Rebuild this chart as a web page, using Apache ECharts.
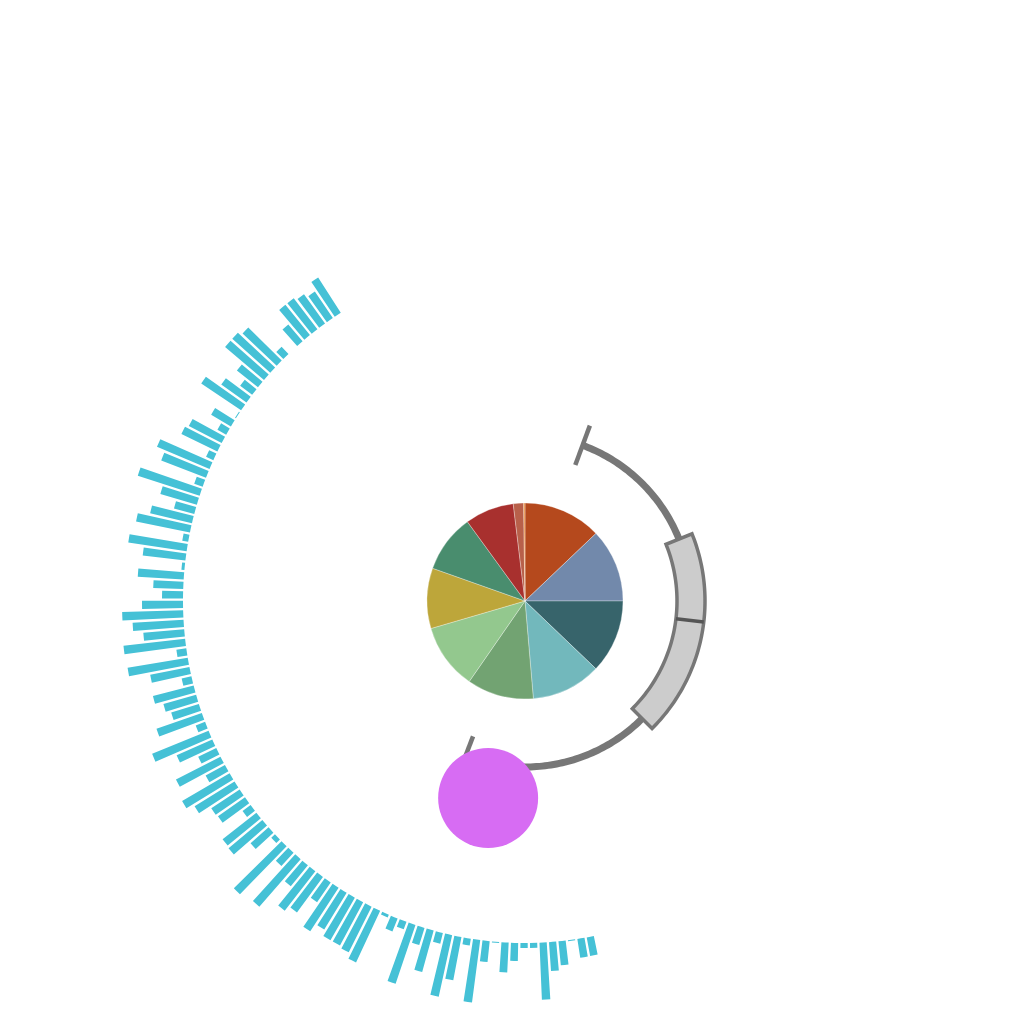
<!DOCTYPE html>
<html>
<head>
<meta charset="utf-8">
<script src="https://cdn.jsdelivr.net/npm/echarts@6/dist/echarts.min.js"></script>
<style>html,body{margin:0;padding:0;background:#fff}#c{width:1024px;height:1024px}</style>
</head>
<body>
<div id="c"></div>
<script>
// ---- data ----
const barValues = [
  42, 32, 36, 39, 39, 22, 0, 10, 47, 51,
  51, 27, 15, 31, 48, 1, 23, 10, 37, 40,
  8, 57, 48, 9, 65, 38, 21, 43, 55, 6,
  59, 43, 3, 46, 30, 21, 41, 61, 51, 41,
  62, 10, 61, 40, 10, 42, 34, 29, 48, 10,
  61, 39, 20, 50, 22, 55, 47, 34, 33, 10,
  43, 44, 24, 5, 67, 18, 63, 27, 50, 44,
  24, 52, 43, 49, 49, 51, 57, 3, 14, 8,
  62, 18, 43, 11, 63, 44, 7, 63, 21, 1,
  30, 18, 5, 5, 57, 29, 24, 1, 19, 19
];
const barCategories = barValues.map((v, i) => 'c' + (i + 1));

const pieNames = ['A', 'B', 'C', 'D', 'E', 'F', 'G', 'H', 'I', 'J', 'K'];
const pieValues = [46.4, 43.6, 43.7, 41.4, 39.6, 39.0, 35.8, 34.5, 29.1, 6.1, 0.8];
const pieColors = ['#b5491d', '#7289ab', '#37646b', '#72b8bc', '#72a372', '#93c88e',
                   '#bda63a', '#498d6e', '#a8302e', '#b8604a', '#e98c3a'];

// boxplot on angle axis: [low, Q1, median, Q3, high]
const boxValues = [20.3, 68.1, 96.7, 135.1, 201.0];
// scatter point: [radius, angle]
const scatterValues = [[200.4, 190.6]];

// ---- layout / style ----
const CENTER = [525, 601];
const BOX_RADIUS = 166;
const BOX_HALF = 14;
const CAP_HALF = 21;

function renderBox(params, api) {
  const low = api.value(0), q1 = api.value(1), med = api.value(2), q3 = api.value(3), high = api.value(4);
  const rIn = BOX_RADIUS - BOX_HALF, rOut = BOX_RADIUS + BOX_HALF;
  const arc = (r, a0, a1) => {
    const n = Math.max(2, Math.ceil(Math.abs(a1 - a0)));
    const pts = [];
    for (let i = 0; i <= n; i++) pts.push(api.coord([r, a0 + (a1 - a0) * i / n]));
    return pts;
  };
  const seg = (a, r0, r1, style) => {
    const p0 = api.coord([r0, a]), p1 = api.coord([r1, a]);
    return { type: 'line', shape: { x1: p0[0], y1: p0[1], x2: p1[0], y2: p1[1] }, style: style };
  };
  const whiskerStyle = { stroke: '#777777', lineWidth: 7, fill: 'none' };
  const capStyle = { stroke: '#777777', lineWidth: 4.5, fill: 'none' };
  return {
    type: 'group',
    children: [
      { type: 'polyline', shape: { points: arc(BOX_RADIUS, low, q1) }, style: whiskerStyle },
      { type: 'polyline', shape: { points: arc(BOX_RADIUS, q3, high) }, style: whiskerStyle },
      seg(low, BOX_RADIUS - CAP_HALF, BOX_RADIUS + CAP_HALF, capStyle),
      seg(high, BOX_RADIUS - CAP_HALF, BOX_RADIUS + CAP_HALF, capStyle),
      { type: 'polygon', shape: { points: arc(rOut, q1, q3).concat(arc(rIn, q3, q1)) },
        style: { fill: '#cccccc', stroke: '#777777', lineWidth: 3.5 } },
      seg(med, rIn, rOut, { stroke: '#555555', lineWidth: 3.5 })
    ]
  };
}

const chart = echarts.init(document.getElementById('c'), null, { renderer: 'canvas' });
chart.setOption({
  animation: false,
  backgroundColor: '#ffffff',
  polar: [
    { center: CENTER, radius: [342, 412] },
    { center: CENTER, radius: [0, 400] }
  ],
  angleAxis: [
    { polarIndex: 0, type: 'category', data: barCategories, boundaryGap: true,
      startAngle: 122.4, endAngle: 281.8, clockwise: false, show: false },
    { polarIndex: 1, type: 'value', min: 0, max: 360, startAngle: 90, clockwise: true, show: false }
  ],
  radiusAxis: [
    { polarIndex: 0, type: 'value', min: 0, max: 70, show: false },
    { polarIndex: 1, type: 'value', min: 0, max: 400, show: false }
  ],
  series: [
    { type: 'bar', coordinateSystem: 'polar', polarIndex: 0, data: barValues,
      barCategoryGap: '24%', itemStyle: { color: '#45c1d6' } },
    { type: 'custom', coordinateSystem: 'polar', polarIndex: 1, data: [boxValues],
      renderItem: renderBox },
    { type: 'scatter', coordinateSystem: 'polar', polarIndex: 1, data: scatterValues,
      symbolSize: 100, itemStyle: { color: '#d76cf3', opacity: 1 } },
    { type: 'pie', center: CENTER, radius: 98, startAngle: 90, clockwise: true,
      label: { show: false }, labelLine: { show: false },
      itemStyle: { borderColor: 'rgba(255,255,255,0.6)', borderWidth: 0.5 },
      data: pieValues.map((v, i) => ({ name: pieNames[i], value: v, itemStyle: { color: pieColors[i] } })) }
  ]
});
</script>
</body>
</html>
